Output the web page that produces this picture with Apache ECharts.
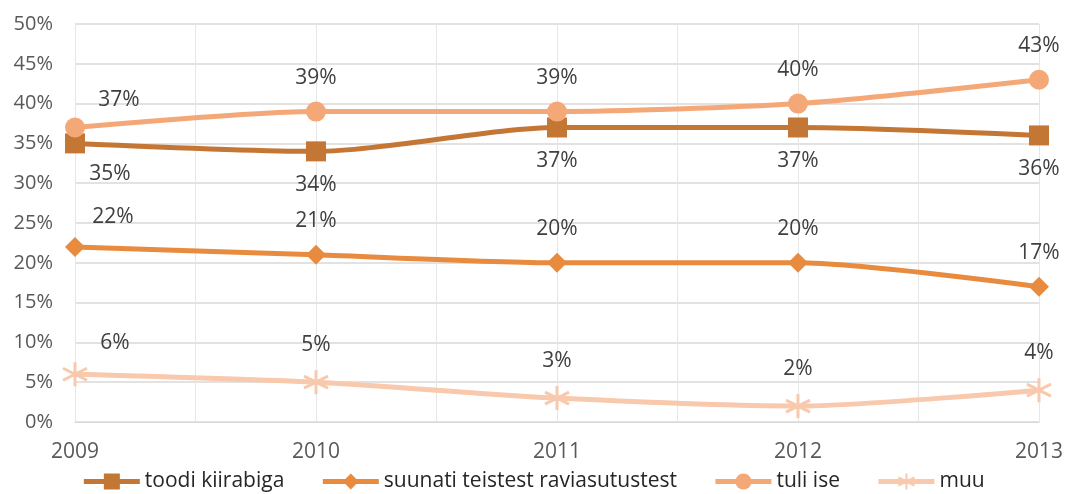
<!DOCTYPE html>
<html>
<head>
<meta charset="utf-8">
<script src="https://cdn.jsdelivr.net/npm/echarts@6/dist/echarts.min.js"></script>
<style>
  html, body { margin: 0; padding: 0; background: #fff; }
  #main { width: 1066px; height: 494px; }
</style>
</head>
<body>
<div id="main"></div>
<script>
// aastad ja protsendid
const years = [2009, 2010, 2011, 2012, 2013];
const seriesNames = ['toodi kiirabiga', 'suunati teistest raviasutustest', 'tuli ise', 'muu'];
const toodi = [35, 34, 37, 37, 36];
const suunati = [22, 21, 20, 20, 17];
const tuliIse = [37, 39, 39, 40, 43];
const muu = [6, 5, 3, 2, 4];

const colors = ['#C47634', '#E88B3F', '#F5A877', '#F8C9AC'];
const asterisk = 'path://M0,-10L0,10M-8.66,-5L8.66,5M-8.66,5L8.66,-5';

const chart = echarts.init(document.getElementById('main'));

function makeData(vals, firstOffset) {
  return vals.map(function (v, i) {
    const item = { value: [years[i], v] };
    if (i === 0) item.label = { offset: firstOffset };
    return item;
  });
}

function lineSeries(name, vals, color, symbol, size, pos, firstOffset) {
  return {
    name: name,
    type: 'line',
    smooth: 0.25,
    data: makeData(vals, firstOffset),
    symbol: symbol,
    symbolSize: size,
    lineStyle: { width: 5, color: color },
    itemStyle: { color: color },
    label: {
      show: true,
      position: pos,
      distance: 13,
      formatter: function (p) { return p.value[1] + '%'; },
      color: '#404040',
      fontSize: 21,
      fontFamily: 'Open Sans'
    },
    z: 3
  };
}

const muuSeries = lineSeries(seriesNames[3], muu, colors[3], asterisk, 24, 'top', [40, 6]);
muuSeries.itemStyle = { color: colors[3], borderColor: colors[3], borderWidth: 3 };

const option = {
  backgroundColor: '#ffffff',
  color: colors,
  animation: false,
  grid: { left: 75, right: 26, top: 24, bottom: 72 },
  legend: {
    bottom: -3,
    left: 'center',
    itemWidth: 56,
    itemHeight: 20,
    itemGap: 36,
    lineStyle: { width: 5 },
    textStyle: { fontSize: 21, color: '#262626', fontFamily: 'Open Sans' },
    data: seriesNames
  },
  xAxis: {
    type: 'value',
    min: 2009,
    max: 2013,
    interval: 0.5,
    axisLine: { lineStyle: { color: '#D9D9D9', width: 1 } },
    axisTick: { show: false },
    splitLine: { show: true, lineStyle: { color: '#E6E6E6', width: 1 } },
    axisLabel: {
      margin: 20,
      fontSize: 21,
      color: '#595959',
      fontFamily: 'Open Sans',
      formatter: function (v) { return v % 1 === 0 ? String(v) : ''; }
    }
  },
  yAxis: {
    type: 'value',
    min: 0,
    max: 50,
    interval: 5,
    axisLine: { show: false },
    axisTick: { show: false },
    splitLine: { lineStyle: { color: '#D9D9D9', width: 1.5 } },
    axisLabel: {
      margin: 22,
      fontSize: 20,
      color: '#595959',
      fontFamily: 'Open Sans',
      formatter: '{value}%'
    }
  },
  series: [
    lineSeries(seriesNames[0], toodi, colors[0], 'rect', 20, 'bottom', [35, -3]),
    lineSeries(seriesNames[1], suunati, colors[1], 'diamond', 20, 'top', [38, 4]),
    lineSeries(seriesNames[2], tuliIse, colors[2], 'circle', 20, 'top', [44, 6]),
    muuSeries
  ]
};

chart.setOption(option);
</script>
</body>
</html>
